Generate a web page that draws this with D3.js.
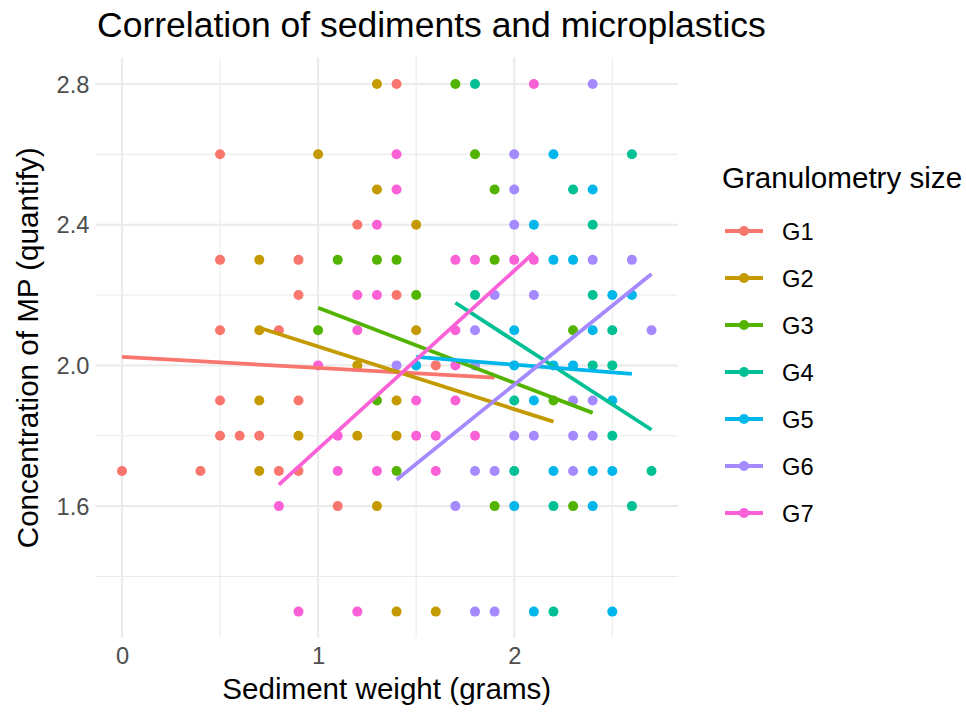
<!DOCTYPE html>
<html>
<head>
<meta charset="utf-8">
<script src="https://cdn.jsdelivr.net/npm/d3@7"></script>
<style>
  body { margin: 0; background: #fff; }
  svg { display: block; font-family: "Liberation Sans", Arial, sans-serif; }
</style>
</head>
<body>
<div id="chart"></div>
<script>
// groups and ggplot hue colours
const groups = ["G1", "G2", "G3", "G4", "G5", "G6", "G7"];
const colors = ["#F8766D", "#C49A00", "#53B400", "#00C094", "#00B6EB", "#A58AFF", "#FB61D7"];

// points per group: [sediment weight, concentration]
const G1 = [[1.4, 2.8], [0.5, 2.6], [1.2, 2.4], [0.5, 2.3], [0.9, 2.3], [0.9, 2.2], [1.4, 2.2],
  [0.5, 2.1], [0.8, 2.1], [1.6, 2.0], [0.5, 1.9], [0.9, 1.9], [0.5, 1.8], [0.6, 1.8], [0.7, 1.8],
  [0.0, 1.7], [0.4, 1.7], [0.8, 1.7], [0.9, 1.7], [1.1, 1.6]];
const G2 = [[1.3, 2.8], [1.0, 2.6], [1.3, 2.5], [1.5, 2.4], [0.7, 2.3], [0.7, 2.1], [1.5, 2.1],
  [1.2, 2.0], [0.7, 1.9], [1.4, 1.9], [0.9, 1.8], [1.2, 1.8], [1.4, 1.8], [0.7, 1.7], [1.3, 1.6],
  [1.4, 1.3], [1.6, 1.3]];
const G3 = [[1.7, 2.8], [1.8, 2.6], [1.9, 2.5], [1.1, 2.3], [1.3, 2.3], [1.4, 2.3], [1.9, 2.3],
  [1.5, 2.2], [1.0, 2.1], [2.3, 2.1], [1.3, 1.9], [2.2, 1.9], [1.4, 1.7], [1.9, 1.6], [2.3, 1.6]];
const G4 = [[1.8, 2.8], [2.6, 2.6], [2.3, 2.5], [2.4, 2.4], [1.8, 2.2], [2.4, 2.2], [2.5, 2.1],
  [2.4, 2.0], [2.5, 2.0], [2.0, 1.9], [2.5, 1.8], [2.0, 1.7], [2.7, 1.7], [2.2, 1.6], [2.6, 1.6],
  [2.2, 1.3]];
const G5 = [[2.2, 2.6], [2.4, 2.5], [2.1, 2.4], [2.2, 2.3], [2.3, 2.3], [2.5, 2.2], [2.6, 2.2],
  [2.0, 2.1], [2.4, 2.1], [1.5, 2.0], [2.0, 2.0], [2.2, 2.0], [2.3, 2.0], [2.1, 1.9], [2.5, 1.9],
  [2.2, 1.7], [2.4, 1.7], [2.5, 1.7], [2.0, 1.6], [2.4, 1.6], [2.1, 1.3], [2.5, 1.3]];
const G6 = [[2.4, 2.8], [2.0, 2.6], [2.0, 2.5], [2.0, 2.4], [2.4, 2.3], [2.6, 2.3], [1.9, 2.2],
  [2.1, 2.2], [1.8, 2.1], [2.7, 2.1], [1.4, 2.0], [1.8, 2.0], [2.3, 1.9], [2.4, 1.9], [2.0, 1.8],
  [2.1, 1.8], [2.3, 1.8], [2.4, 1.8], [1.8, 1.7], [1.9, 1.7], [2.3, 1.7], [1.7, 1.6], [1.8, 1.3],
  [1.9, 1.3]];
const G7 = [[2.1, 2.8], [1.4, 2.6], [1.4, 2.5], [1.3, 2.4], [1.7, 2.3], [1.8, 2.3], [2.0, 2.3],
  [2.1, 2.3], [1.2, 2.2], [1.3, 2.2], [1.2, 2.1], [1.7, 2.1], [1.0, 2.0], [1.7, 2.0], [1.5, 1.9],
  [1.7, 1.9], [1.1, 1.8], [1.5, 1.8], [1.6, 1.8], [1.8, 1.8], [1.1, 1.7], [1.3, 1.7], [1.6, 1.7],
  [0.8, 1.6], [0.9, 1.3], [1.2, 1.3]];
const pointSets = [G1, G2, G3, G4, G5, G6, G7];

// fitted lm lines: [x start, y start, x end, y end]
const trends = [
  [0.0, 2.024, 1.9, 1.965],
  [0.7, 2.107, 2.2, 1.84],
  [1.0, 2.164, 2.4, 1.865],
  [1.7, 2.178, 2.7, 1.817],
  [1.5, 2.024, 2.6, 1.976],
  [1.4, 1.675, 2.7, 2.26],
  [0.8, 1.661, 2.1, 2.32]
];

const xTicks = [0, 1, 2];
const xMinor = [0.5, 1.5, 2.5];
const yTicks = [1.6, 2.0, 2.4, 2.8];
const yMinor = [1.4, 1.8, 2.2, 2.6];

const width = 966, height = 716;
const panel = { left: 95.5, right: 678, top: 57.6, bottom: 638 };

const svg = d3.select("#chart").append("svg")
  .attr("width", width)
  .attr("height", height);

const x = d3.scaleLinear().domain([-0.135, 2.835]).range([panel.left, panel.right]);
const y = d3.scaleLinear().domain([1.225, 2.875]).range([panel.bottom, panel.top]);
const color = d3.scaleOrdinal().domain(groups).range(colors);

// grid
const grid = svg.append("g");
grid.selectAll(".xminor").data(xMinor).join("line")
  .attr("x1", d => x(d)).attr("x2", d => x(d))
  .attr("y1", panel.top).attr("y2", panel.bottom)
  .attr("stroke", "#EBEBEB").attr("stroke-width", 1.1);
grid.selectAll(".yminor").data(yMinor).join("line")
  .attr("y1", d => y(d)).attr("y2", d => y(d))
  .attr("x1", panel.left).attr("x2", panel.right)
  .attr("stroke", "#EBEBEB").attr("stroke-width", 1.1);
grid.selectAll(".xmajor").data(xTicks).join("line")
  .attr("x1", d => x(d)).attr("x2", d => x(d))
  .attr("y1", panel.top).attr("y2", panel.bottom)
  .attr("stroke", "#EBEBEB").attr("stroke-width", 2.1);
grid.selectAll(".ymajor").data(yTicks).join("line")
  .attr("y1", d => y(d)).attr("y2", d => y(d))
  .attr("x1", panel.left).attr("x2", panel.right)
  .attr("stroke", "#EBEBEB").attr("stroke-width", 2.1);

// axes (text only, like theme_minimal)
const xAxis = svg.append("g")
  .attr("transform", `translate(0,${panel.bottom + 6})`)
  .call(d3.axisBottom(x).tickValues(xTicks).tickSize(0).tickPadding(0).tickFormat(d3.format("d")));
xAxis.select(".domain").remove();
xAxis.selectAll("text")
  .attr("dy", null).attr("y", 20)
  .style("font-size", "23.7px").style("fill", "#4D4D4D").style("font-family", "Liberation Sans, Arial, sans-serif");

const yAxis = svg.append("g")
  .attr("transform", `translate(${panel.left - 6},0)`)
  .call(d3.axisLeft(y).tickValues(yTicks).tickSize(0).tickPadding(0).tickFormat(d3.format(".1f")));
yAxis.select(".domain").remove();
yAxis.selectAll("text")
  .attr("dy", "0.35em")
  .style("font-size", "23.7px").style("fill", "#4D4D4D").style("font-family", "Liberation Sans, Arial, sans-serif");

// points
pointSets.forEach((pts, i) => {
  svg.append("g").selectAll("circle").data(pts).join("circle")
    .attr("cx", d => x(d[0]))
    .attr("cy", d => y(d[1]))
    .attr("r", 5)
    .attr("fill", color(groups[i]));
});

// regression lines
svg.append("g").selectAll("line").data(trends).join("line")
  .attr("x1", d => x(d[0])).attr("y1", d => y(d[1]))
  .attr("x2", d => x(d[2])).attr("y2", d => y(d[3]))
  .attr("stroke", (d, i) => colors[i])
  .attr("stroke-width", 3.8)
  .attr("stroke-linecap", "butt");

// titles
svg.append("text")
  .attr("x", 97).attr("y", 37)
  .style("font-size", "35.5px").style("fill", "#000")
  .text("Correlation of sediments and microplastics");

svg.append("text")
  .attr("x", (panel.left + panel.right) / 2).attr("y", 699)
  .attr("text-anchor", "middle")
  .style("font-size", "29.6px").style("fill", "#000")
  .text("Sediment weight (grams)");

svg.append("text")
  .attr("transform", `translate(38,${(panel.top + panel.bottom) / 2}) rotate(-90)`)
  .attr("text-anchor", "middle")
  .style("font-size", "29.6px").style("fill", "#000")
  .text("Concentration of MP (quantify)");

// legend
const legend = svg.append("g");
legend.append("text")
  .attr("x", 722).attr("y", 188)
  .style("font-size", "29.6px").style("fill", "#000")
  .text("Granulometry size");

const keys = legend.selectAll(".key").data(groups).join("g")
  .attr("transform", (d, i) => `translate(0,${231 + i * 47})`);
keys.append("line")
  .attr("x1", 725).attr("x2", 763)
  .attr("stroke", d => color(d)).attr("stroke-width", 3.8);
keys.append("circle")
  .attr("cx", 744).attr("r", 5)
  .attr("fill", d => color(d));
keys.append("text")
  .attr("x", 782).attr("dy", "0.36em")
  .style("font-size", "23.7px").style("fill", "#000")
  .text(d => d);
</script>
</body>
</html>
